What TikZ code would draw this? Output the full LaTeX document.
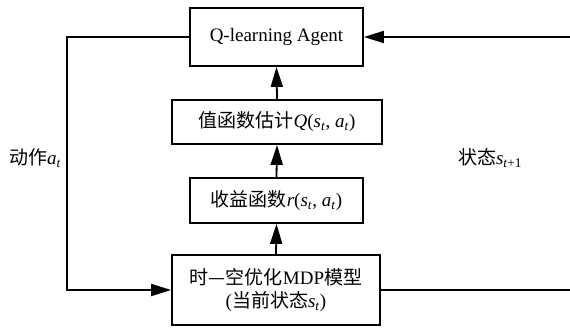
\documentclass[tikz,border=0pt]{standalone}
\usepackage{fontspec}
\setmainfont{Liberation Serif}
\newfontfamily\cjk{Noto Sans CJK SC}
\usetikzlibrary{arrows.meta}
\newcommand{\vsub}[1]{\textsubscript{#1}}
\begin{document}
\begin{tikzpicture}[x=1pt,y=1pt,
  box/.style={draw,line width=1.8pt,inner sep=0pt,align=center,font=\fontsize{19}{23}\selectfont},
  wire/.style={line width=1.8pt},
  conn/.style={wire,-{Triangle[length=20pt,width=12pt]}},
  lbl/.style={font=\fontsize{19}{23}\selectfont,inner sep=0pt}]
\useasboundingbox (0,0) rectangle (570,329);
\node[box,minimum width=173pt,minimum height=58pt] (agent) at (276.5,292) {Q-learning Agent};
\node[box,minimum width=210pt,minimum height=44pt] (q) at (277,207) {{\cjk 值函数估计}\textit{Q}(\textit{s}\vsub{\textit{t}}, \textit{a}\vsub{\textit{t}})};
\node[box,minimum width=173pt,minimum height=45pt] (r) at (276.5,128.5) {{\cjk 收益函数}\textit{r}(\textit{s}\vsub{\textit{t}}, \textit{a}\vsub{\textit{t}})};
\node[box,minimum width=208pt,minimum height=70pt] (mdp) at (276,39) {{\cjk 时—空优化}MDP{\cjk 模型}\\({\cjk 当前状态}\textit{s}\vsub{\textit{t}})};
\coordinate (lt) at (67,292);
\coordinate (lb) at (67,39);
\coordinate (rt) at (571,292);
\coordinate (rb) at (571,39);
\draw[conn] (mdp.north) -- (r.south);
\draw[conn] (r.north) -- (q.south);
\draw[conn] (q.north) -- (agent.south);
\draw[conn] (agent.west) -- (lt) -- (lb) -- (mdp.west);
\draw[wire] (mdp.east) -- (rb);
\draw[conn] (rt) -- (agent.east);
\node[lbl] (act) at (35,171) {{\cjk 动作}\textit{a}\vsub{\textit{t}}};
\node[lbl] (state) at (490,171) {{\cjk 状态}\textit{s}\vsub{\textit{t}+1}};
\end{tikzpicture}
\end{document}
